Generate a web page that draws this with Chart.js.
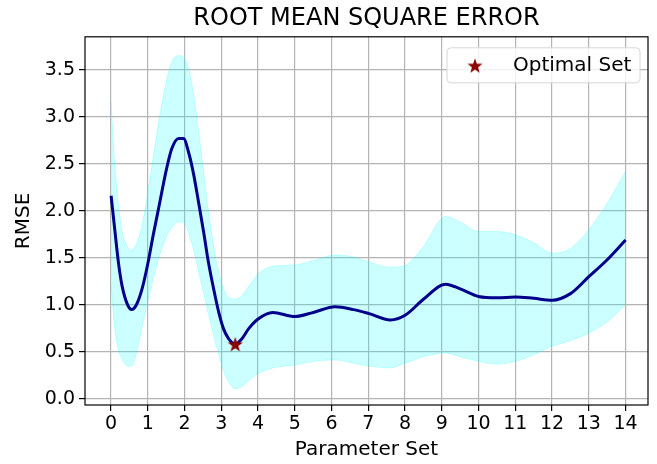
<!DOCTYPE html>
<html>
<head>
<meta charset="utf-8">
<script src="https://cdn.jsdelivr.net/npm/chart.js@4.4.1/dist/chart.umd.min.js"></script>
<style>
  html, body { margin: 0; padding: 0; background: #fff; }
  canvas { display: block; }
</style>
</head>
<body>
<canvas id="rmseChart" width="657" height="464"></canvas>
<script>
// values
const paramSet = [0, 0.1, 0.2, 0.3, 0.45, 0.56, 0.7, 0.85, 1.0, 1.15, 1.3, 1.5, 1.65, 1.84, 1.97,
  2.11, 2.25, 2.38, 2.52, 2.65, 2.79, 2.93, 3.06, 3.2, 3.38, 3.56, 3.75, 4.0, 4.4, 5.0, 5.5,
  6.1, 6.6, 7.0, 7.6, 8.0, 8.5, 9.1, 9.5, 10, 10.5, 11, 11.5, 12, 12.5, 13, 13.5, 14];
const rmseMean = [2.16, 1.80, 1.45, 1.20, 1.00, 0.95, 1.01, 1.18, 1.44, 1.75, 2.04, 2.43, 2.66, 2.77, 2.77,
  2.62, 2.38, 2.09, 1.77, 1.45, 1.17, 0.92, 0.745, 0.64, 0.585, 0.64, 0.75, 0.85, 0.92, 0.876, 0.92,
  0.98, 0.95, 0.91, 0.84, 0.89, 1.06, 1.22, 1.17, 1.09, 1.075, 1.085, 1.07, 1.05, 1.12, 1.30, 1.48, 1.69];
const rmseUpper = [3.16, 2.50, 2.06, 1.78, 1.62, 1.58, 1.66, 1.86, 2.20, 2.58, 2.96, 3.37, 3.58, 3.65, 3.63,
  3.51, 3.23, 2.84, 2.41, 1.99, 1.63, 1.35, 1.17, 1.08, 1.06, 1.10, 1.20, 1.33, 1.41, 1.425, 1.47,
  1.53, 1.51, 1.46, 1.40, 1.42, 1.62, 1.94, 1.88, 1.78, 1.78, 1.745, 1.66, 1.55, 1.60, 1.80, 2.08, 2.42];
const rmseLower = [1.20, 0.75, 0.52, 0.42, 0.35, 0.35, 0.50, 0.78, 1.04, 1.28, 1.50, 1.72, 1.82, 1.88, 1.88,
  1.76, 1.58, 1.35, 1.12, 0.90, 0.68, 0.47, 0.30, 0.18, 0.11, 0.13, 0.20, 0.27, 0.33, 0.36, 0.40,
  0.415, 0.38, 0.35, 0.33, 0.38, 0.45, 0.49, 0.45, 0.40, 0.37, 0.40, 0.47, 0.56, 0.62, 0.70, 0.82, 1.00];
const optimalSet = [3.38];
const optimalRmse = [0.585];
const xTicks = [0, 1, 2, 3, 4, 5, 6, 7, 8, 9, 10, 11, 12, 13, 14];
const yTicks = [0, 0.5, 1.0, 1.5, 2.0, 2.5, 3.0, 3.5];

const FONT = 'DejaVu Sans';

function starImage(size, color) {
  const c = document.createElement('canvas');
  c.width = size; c.height = size;
  const g = c.getContext('2d');
  const r = size / 2, ri = r * 0.4;
  g.beginPath();
  for (let i = 0; i < 10; i++) {
    const rad = i % 2 ? ri : r;
    const a = -Math.PI / 2 + i * Math.PI / 5;
    g.lineTo(r + rad * Math.cos(a), r + 1 + rad * Math.sin(a));
  }
  g.closePath();
  g.fillStyle = color;
  g.fill();
  return c;
}
const star = starImage(16, '#8b0000');

function pts(ys) {
  return paramSet.map((x, i) => ({ x: x, y: ys[i] }));
}

// matplotlib style box round the axes
const framePlugin = {
  id: 'frame',
  afterDatasetsDraw(chart) {
    const { ctx, chartArea: a } = chart;
    ctx.save();
    ctx.strokeStyle = '#000';
    ctx.lineWidth = 1.2;
    ctx.strokeRect(a.left, a.top, a.right - a.left, a.bottom - a.top);
    ctx.restore();
  }
};

// legend drawn inside the plot, upper right
const legendPlugin = {
  id: 'innerLegend',
  afterDraw(chart) {
    const { ctx, chartArea: a } = chart;
    const w = 193, h = 35;
    const x = a.right - 8 - w, y = a.top + 11;
    ctx.save();
    ctx.beginPath();
    ctx.roundRect(x, y, w, h, 4);
    ctx.fillStyle = 'rgba(255,255,255,0.8)';
    ctx.fill();
    ctx.strokeStyle = '#d6d6d6';
    ctx.lineWidth = 1;
    ctx.stroke();
    ctx.drawImage(star, x + 28 - star.width / 2, y + h / 2 - star.height / 2);
    ctx.fillStyle = '#000';
    ctx.font = '20px "' + FONT + '"';
    ctx.textBaseline = 'middle';
    ctx.fillText(chart.data.datasets[0].label, x + 66, y + h / 2);
    ctx.restore();
  }
};

const ctx = document.getElementById('rmseChart').getContext('2d');
new Chart(ctx, {
  type: 'line',
  data: {
    datasets: [
      {
        label: 'Optimal Set',
        data: optimalSet.map((x, i) => ({ x: x, y: optimalRmse[i] })),
        showLine: false,
        pointStyle: star,
        pointRadius: 8
      },
      {
        label: 'RMSE',
        data: pts(rmseMean),
        borderColor: '#00008b',
        borderWidth: 3,
        pointRadius: 0,
        cubicInterpolationMode: 'monotone',
        fill: false
      },
      {
        label: 'upper',
        data: pts(rmseUpper),
        borderColor: 'rgba(0,255,255,0.2)',
        backgroundColor: 'rgba(0,255,255,0.2)',
        borderWidth: 1,
        pointRadius: 0,
        cubicInterpolationMode: 'monotone',
        fill: 3
      },
      {
        label: 'lower',
        data: pts(rmseLower),
        borderColor: 'rgba(0,255,255,0.2)',
        borderWidth: 1,
        pointRadius: 0,
        cubicInterpolationMode: 'monotone',
        fill: false
      }
    ]
  },
  options: {
    responsive: false,
    animation: false,
    devicePixelRatio: 1,
    events: [],
    layout: { padding: { left: 0, right: 9, top: 0, bottom: 0 } },
    plugins: {
      legend: { display: false },
      tooltip: { enabled: false },
      title: {
        display: true,
        fullSize: false,
        text: 'ROOT MEAN SQUARE ERROR',
        color: '#000',
        font: { family: FONT, size: 24, weight: 'normal' },
        padding: { top: 4, bottom: 4 }
      }
    },
    scales: {
      x: {
        type: 'linear',
        min: -0.71,
        max: 14.61,
        afterBuildTicks: s => { s.ticks = xTicks.map(v => ({ value: v })); },
        afterFit: s => { s.height = 59; },
        ticks: { color: '#000', font: { family: FONT, size: 19 }, padding: 2, maxRotation: 0, autoSkip: false },
        grid: { color: '#b4b4b4', lineWidth: 1.2, tickColor: '#000', tickLength: 6 },
        border: { display: false },
        title: {
          display: true, text: 'Parameter Set', color: '#000',
          font: { family: FONT, size: 20 }, padding: { top: 0, bottom: 2 }
        }
      },
      y: {
        min: -0.064,
        max: 3.85,
        afterBuildTicks: s => { s.ticks = yTicks.map(v => ({ value: v })); },
        afterFit: s => { s.width = 85; },
        ticks: { color: '#000', font: { family: FONT, size: 19 }, padding: 4, callback: v => v.toFixed(1) },
        grid: { color: '#b4b4b4', lineWidth: 1.2, tickColor: '#000', tickLength: 6 },
        border: { display: false },
        title: {
          display: true, text: 'RMSE', color: '#000',
          font: { family: FONT, size: 20 }, padding: { top: 12, bottom: 0 }
        }
      }
    }
  },
  plugins: [framePlugin, legendPlugin]
});
</script>
</body>
</html>
